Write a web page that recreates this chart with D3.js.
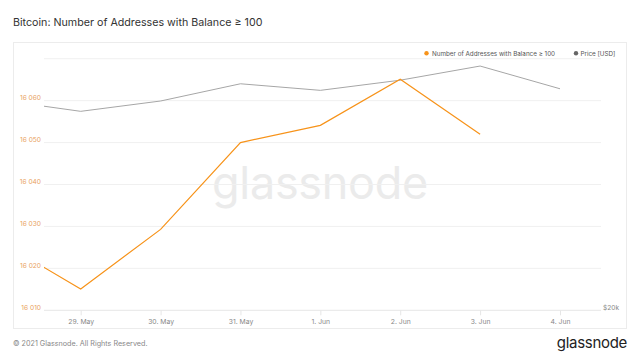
<!DOCTYPE html>
<html><head><meta charset="utf-8">
<script src="https://cdn.jsdelivr.net/npm/d3@7"></script>
<style>
body{margin:0;background:#fff;}
svg{display:block;font-family:Inter,"Noto Sans",sans-serif;}
</style></head>
<body><svg id="c" width="640" height="360"></svg>
<script>
const dates = ["2021-05-28","2021-05-29","2021-05-30","2021-05-31","2021-06-01","2021-06-02","2021-06-03","2021-06-04"];
const addresses = [16026.3,16015.1,16029.3,16050.0,16054.1,16065.1,16052.0,null];
const price = [35680,34600,35600,37330,36660,37700,39200,36820];
const yTicks = [16010,16020,16030,16040,16050,16060,16070];
const xTickDates = ["2021-05-29","2021-05-30","2021-05-31","2021-06-01","2021-06-02","2021-06-03","2021-06-04"];
const priceTicks = [20000];

(function(){
const parse = d3.utcParse("%Y-%m-%d");
const svg = d3.select("#c");
const pL=44,pR=601,pT=58.7,pB=310.3;

// panel
svg.append("rect").attr("x",13.5).attr("y",42.5).attr("width",613).attr("height",286)
  .attr("fill","#fff").attr("stroke","#ececec");

svg.append("text").attr("x",13).attr("y",26).attr("font-size",10.7).attr("fill","#333")
  .text("Bitcoin: Number of Addresses with Balance ≥ 100");

const x = d3.scaleUtc().domain([parse("2021-05-29"),parse("2021-06-04")]).range([80.7,560]);
const y = d3.scaleLinear().domain([16010,16070]).range([pB,pT]);
const yp = d3.scaleLog().domain([20000,40000]).range([pB,pT]);

// watermark
svg.append("text").attr("x",320).attr("y",199).attr("text-anchor","middle")
  .attr("font-size",45).attr("font-weight",400).attr("fill","#ebebeb").attr("letter-spacing",-0.3)
  .text("glassnode");

// gridlines
const g = svg.append("g");
g.selectAll("line.grid").data(yTicks.slice(1)).join("line")
  .attr("x1",pL).attr("x2",pR).attr("y1",d=>y(d)).attr("y2",d=>y(d))
  .attr("stroke","#f0f0f0");
// y labels
g.selectAll("text.yl").data(yTicks.slice(0,6)).join("text")
  .attr("x",41).attr("y",d=>y(d)-0.7).attr("text-anchor","end")
  .attr("font-size",6.6).attr("fill","#e9a25e")
  .text(d=>d3.format(",")(d).replace(","," "));

// x axis
const xa = svg.append("g").attr("transform",`translate(0,${pB})`)
  .call(d3.axisBottom(x).tickValues(xTickDates.map(parse)).tickSize(5).tickPadding(4)
    .tickFormat(d=>d3.utcFormat("%-d. %b")(d)));
xa.select(".domain").remove();
xa.append("line").attr("x1",pL).attr("x2",pR).attr("stroke","#e6e6e6");
xa.selectAll(".tick line").attr("stroke","#e6e6e6");
xa.selectAll(".tick text").attr("fill","#888").attr("font-size",6.8).attr("font-family","Inter,'Noto Sans',sans-serif");

// right axis label
svg.selectAll("text.pl").data(priceTicks).join("text")
  .attr("x",619).attr("y",d=>yp(d)-0.7).attr("text-anchor","end")
  .attr("font-size",6.6).attr("fill","#888").text(d=>"$"+d3.format("~s")(d));

// clip
svg.append("clipPath").attr("id","clip").append("rect")
  .attr("x",pL).attr("y",pT-10).attr("width",pR-pL).attr("height",pB-pT+10);

const pts = dates.map((d,i)=>({t:parse(d),a:addresses[i],p:price[i]}));
svg.append("path").datum(pts).attr("clip-path","url(#clip)")
  .attr("fill","none").attr("stroke","#a6a6a6").attr("stroke-width",1)
  .attr("d",d3.line().x(d=>x(d.t)).y(d=>yp(d.p)));
svg.append("path").datum(pts.filter(d=>d.a!=null)).attr("clip-path","url(#clip)")
  .attr("fill","none").attr("stroke","#f7931a").attr("stroke-width",1.2)
  .attr("d",d3.line().x(d=>x(d.t)).y(d=>y(d.a)));

// legend
const lg = svg.append("g").attr("font-size",6.3).attr("fill","#555");
lg.append("circle").attr("cx",426.5).attr("cy",53.3).attr("r",2.2).attr("fill","#f7931a");
lg.append("text").attr("x",432).attr("y",55.6).text("Number of Addresses with Balance ≥ 100");
lg.append("circle").attr("cx",576).attr("cy",53.3).attr("r",2.2).attr("fill","#666");
lg.append("text").attr("x",580.5).attr("y",55.6).text("Price [USD]");

// footer
svg.append("text").attr("x",13).attr("y",346).attr("font-size",7.2).attr("fill","#888")
  .text("© 2021 Glassnode. All Rights Reserved.");
svg.append("text").attr("x",627).attr("y",348).attr("text-anchor","end").attr("font-size",15)
  .attr("fill","#222").attr("letter-spacing",-0.3).text("glassnode");
})();
</script></body></html>
